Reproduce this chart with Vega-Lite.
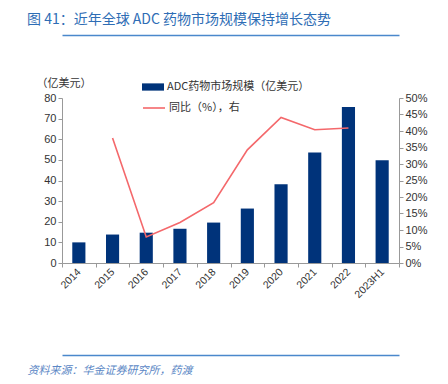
{
  "$schema": "https://vega.github.io/schema/vega-lite/v6.json",
  "width": 337,
  "height": 165,
  "autosize": {"type": "none"},
  "padding": {"left": 62, "top": 98, "right": 49, "bottom": 121},
  "background": "white",
  "title": {
    "text": "图 41：近年全球 ADC 药物市场规模保持增长态势",
    "anchor": "start",
    "frame": "group",
    "dx": -35,
    "offset": 8,
    "font": "Noto Sans CJK SC",
    "fontSize": 14,
    "fontWeight": "normal",
    "color": "#2E6DB5"
  },
  "data": {
    "values": [
      {"year": "2014", "size": 10.0, "yoy": null},
      {"year": "2015", "size": 13.8, "yoy": 0.379},
      {"year": "2016", "size": 14.7, "yoy": 0.079},
      {"year": "2017", "size": 16.6, "yoy": 0.123},
      {"year": "2018", "size": 19.6, "yoy": 0.183},
      {"year": "2019", "size": 26.4, "yoy": 0.343},
      {"year": "2020", "size": 38.2, "yoy": 0.441},
      {"year": "2021", "size": 53.6, "yoy": 0.404},
      {"year": "2022", "size": 75.6, "yoy": 0.409},
      {"year": "2023H1", "size": 49.8, "yoy": null}
    ]
  },
  "layer": [
    {
      "mark": {"type": "bar", "width": {"band": 0.39}},
      "encoding": {
        "x": {
          "field": "year", "type": "nominal", "sort": null,
          "scale": {"paddingInner": 0, "paddingOuter": 0},
          "axis": {
            "title": null, "labelAngle": -45, "labelAlign": "right", "labelBaseline": "middle",
            "labelFont": "Liberation Sans", "labelFontSize": 10.5, "labelColor": "#333333",
            "tickBand": "extent", "domainColor": "#999999", "tickColor": "#999999", "tickSize": 4,
            "labelPadding": 3
          }
        },
        "y": {
          "field": "size", "type": "quantitative",
          "scale": {"domain": [0, 80]},
          "axis": {
            "orient": "left", "values": [0, 10, 20, 30, 40, 50, 60, 70, 80], "grid": false,
            "labelFont": "Liberation Sans", "labelFontSize": 11, "labelColor": "#333333",
            "domainColor": "#999999", "tickColor": "#999999", "tickSize": 4,
            "title": "（亿美元）", "titleAngle": 0, "titleAlign": "left", "titleBaseline": "middle",
            "titleX": -26, "titleY": -15, "titleFont": "Noto Sans CJK SC", "titleFontSize": 11,
            "titleFontWeight": "normal", "titleColor": "#333333"
          }
        },
        "fill": {
          "datum": "ADC药物市场规模（亿美元）",
          "scale": {"range": ["#00337A"]},
          "legend": {
            "orient": "none", "legendX": 80, "legendY": -22, "title": null,
            "symbolType": "M-1,-0.33H1V0.33H-1Z", "symbolSize": 484, "symbolStrokeWidth": 0,
            "labelFont": "Noto Sans CJK SC", "labelFontSize": 11, "labelColor": "#333333", "labelOffset": 3
          }
        }
      }
    },
    {
      "mark": {"type": "line", "strokeWidth": 1.6},
      "encoding": {
        "x": {
          "field": "year", "type": "nominal", "sort": null,
          "axis": {
            "orient": "top", "offset": 63, "labels": false, "ticks": false, "title": null,
            "domainColor": "#4A88CC", "domainWidth": 1.5
          }
        },
        "y": {
          "field": "yoy", "type": "quantitative",
          "scale": {"domain": [0, 0.5]},
          "axis": {
            "orient": "right", "format": ".0%", "grid": false,
            "values": [0, 0.05, 0.1, 0.15, 0.2, 0.25, 0.3, 0.35, 0.4, 0.45, 0.5],
            "labelFont": "Liberation Sans", "labelFontSize": 11, "labelColor": "#333333",
            "domainColor": "#999999", "tickColor": "#999999", "tickSize": 4, "title": null
          }
        },
        "stroke": {
          "datum": "同比（%），右",
          "scale": {"range": ["#F4686B"]},
          "legend": {
            "orient": "none", "legendX": 80, "legendY": -2, "title": null,
            "symbolType": "stroke", "symbolSize": 484, "symbolStrokeWidth": 1.6,
            "labelFont": "Noto Sans CJK SC", "labelFontSize": 11, "labelColor": "#333333", "labelOffset": 3
          }
        }
      }
    },
    {
      "mark": {"type": "bar", "opacity": 0},
      "encoding": {
        "x": {
          "field": "year", "type": "nominal", "sort": null,
          "axis": {
            "orient": "bottom", "offset": 92, "labels": false, "ticks": false,
            "domainColor": "#4A88CC", "domainWidth": 1.5,
            "title": "资料来源：华金证券研究所，药渡", "titleAnchor": "start", "titleAlign": "left",
            "titleX": -35, "titleY": 15, "titleBaseline": "middle",
            "titleFont": "Noto Sans CJK SC", "titleFontSize": 11, "titleFontWeight": "normal",
            "titleFontStyle": "italic", "titleColor": "#5B87C5"
          }
        },
        "y": {"field": "size", "type": "quantitative", "axis": null}
      }
    }
  ],
  "resolve": {"scale": {"y": "independent", "fill": "independent", "stroke": "independent"}, "axis": {"x": "independent"}, "legend": {"fill": "independent", "stroke": "independent"}},
  "config": {"view": {"stroke": null}}
}
